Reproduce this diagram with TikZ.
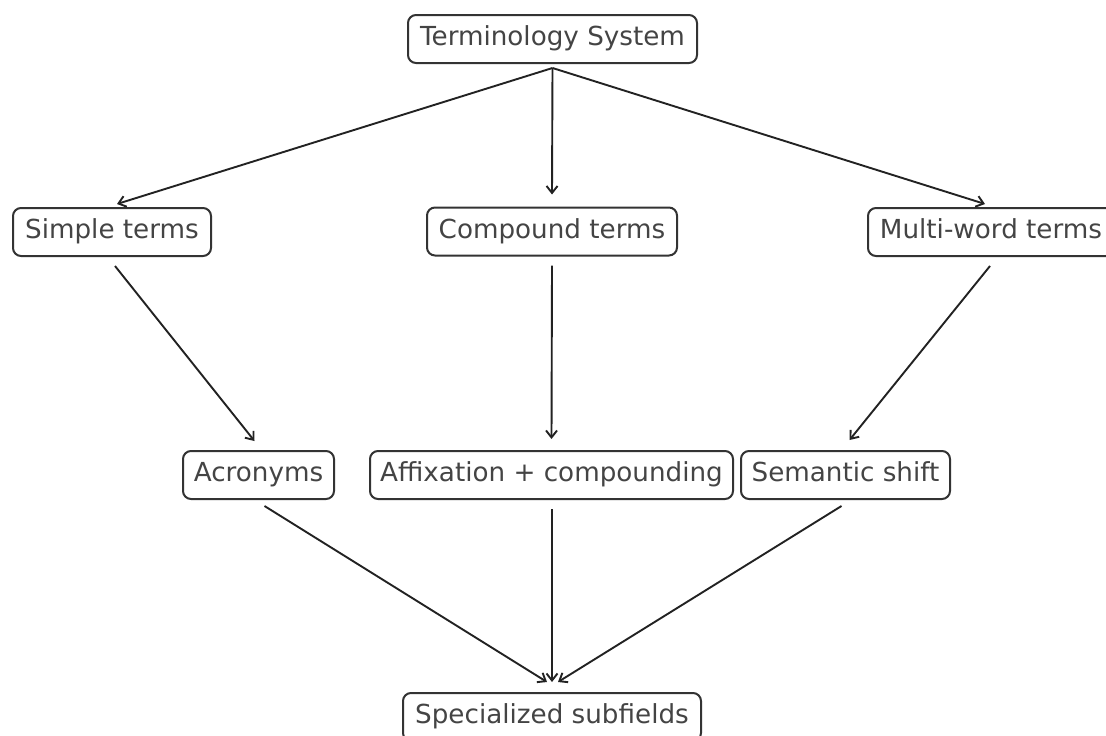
\documentclass[tikz,border=0pt]{standalone}
\usepackage{fontspec}
\setmainfont{DejaVu Sans}
\usetikzlibrary{arrows.meta}
\definecolor{boxc}{HTML}{333333}
\definecolor{textc}{HTML}{444444}
\definecolor{linec}{HTML}{222222}
\begin{document}
\begin{tikzpicture}[x=1pt,y=-1pt,
  box/.style={draw=boxc, line width=2pt, rounded corners=8pt, fill=white,
    text=textc, font=\fontsize{26.2}{30}\selectfont, minimum height=48pt,
    inner sep=0pt, text height=19pt, text depth=6pt},
  conn/.style={draw=linec, line width=1.9pt, -{Straight Barb[length=7pt,width=11pt]}}]
\useasboundingbox (0,0) rectangle (1106,736);

\node[box, minimum width=289pt] (top) at (552.5,39) {Terminology System};
\node[box, minimum width=198pt] (simple) at (112,232) {Simple terms};
\node[box, minimum width=250pt] (compound) at (552,231.5) {Compound terms};
\node[box, minimum width=246pt] (multi) at (991,232) {Multi-word terms};
\node[box, minimum width=151pt] (acr) at (258.5,475) {Acronyms};
\node[box, minimum width=363pt] (affix) at (551.5,475) {Affixation + compounding};
\node[box, minimum width=209pt] (sem) at (845.5,475) {Semantic shift};
\node[box, minimum width=298pt] (spec) at (552,717) {Specialized subfields};

\draw[conn] ([yshift=-4pt]top.south) -- ([xshift=5pt,yshift=3pt]simple.north);
\draw[conn] ([yshift=-4pt]top.south) -- ([yshift=12pt]compound.north);
\draw[conn] ([yshift=-4pt]top.south) -- ([xshift=-6pt,yshift=3pt]multi.north);

\draw[conn] ([xshift=3pt,yshift=-9pt]simple.south) -- ([xshift=-4pt,yshift=9pt]acr.north);
\draw[conn] ([yshift=-9pt]compound.south) -- ([yshift=11pt]affix.north);
\draw[conn] ([xshift=-1pt,yshift=-9pt]multi.south) -- ([xshift=4pt,yshift=10pt]sem.north);

\draw[conn] ([xshift=6pt,yshift=-6pt]acr.south) -- ([xshift=-5pt,yshift=10pt]spec.north);
\draw[conn] ([xshift=0.5pt,yshift=-9pt]affix.south) -- ([yshift=10pt]spec.north);
\draw[conn] ([xshift=-4pt,yshift=-6pt]sem.south) -- ([xshift=6pt,yshift=10pt]spec.north);
\end{tikzpicture}
\end{document}
